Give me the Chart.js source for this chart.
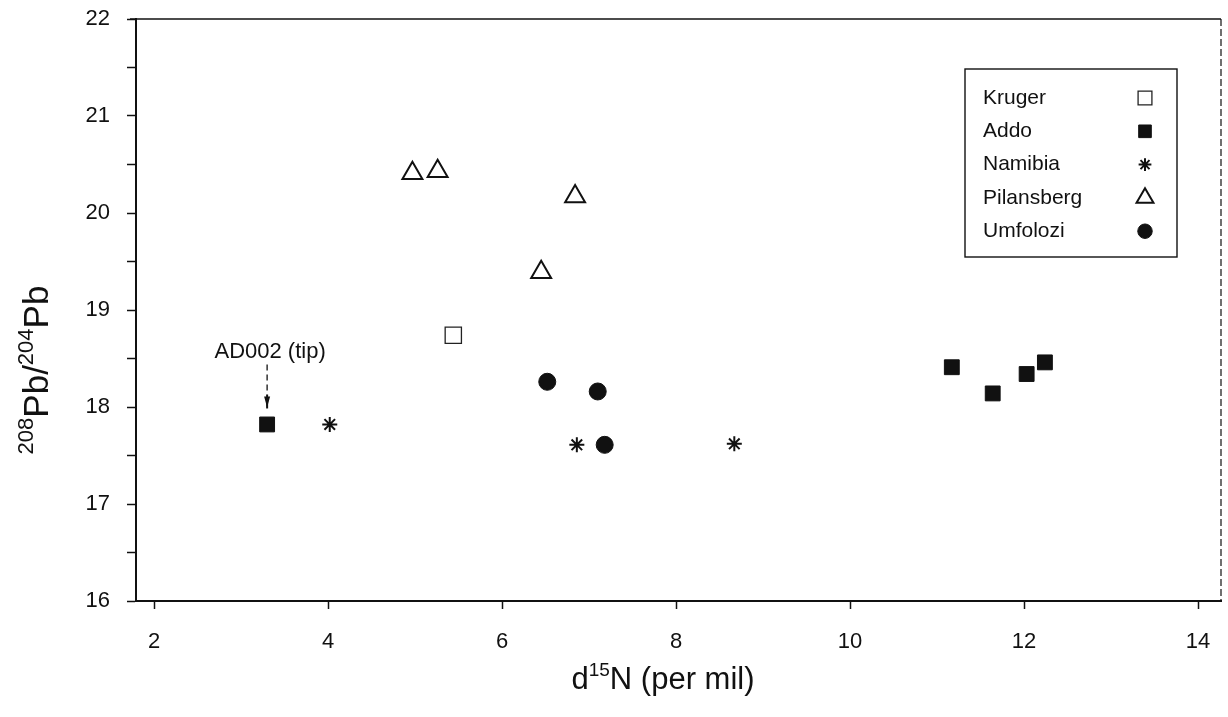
<!DOCTYPE html>
<html>
<head>
<meta charset="utf-8">
<script src="https://cdn.jsdelivr.net/npm/chart.js@4.4.1/dist/chart.umd.min.js"></script>
<style>
  html, body { margin: 0; padding: 0; background: #fff; }
</style>
</head>
<body>
<canvas id="isoChart" width="1228" height="717"></canvas>
<script>
const xTicks = [2, 4, 6, 8, 10, 12, 14];
const yTicks = [16, 17, 18, 19, 20, 21, 22];
const yMinorTicks = [16.5, 17.5, 18.5, 19.5, 20.5, 21.5];

const krugerX = [5.44];
const krugerY = [18.74];
const addoX = [3.30, 11.17, 11.64, 12.03, 12.24];
const addoY = [17.82, 18.41, 18.14, 18.34, 18.46];
const namibiaX = [4.02, 6.86, 8.67];
const namibiaY = [17.82, 17.61, 17.62];
const pilansbergX = [4.97, 5.26, 6.45, 6.84];
const pilansbergY = [20.41, 20.43, 19.39, 20.17];
const umfoloziX = [6.52, 7.10, 7.18];
const umfoloziY = [18.26, 18.16, 17.61];

// axis titles, split so the isotope numbers can be raised
const xTitle = [['d', false], ['15', true], ['N (per mil)', false]];
const yTitle = [['208', true], ['Pb/', false], ['204', true], ['Pb', false]];
const noteText = 'AD002 (tip)';

const FONT = '"Liberation Sans", Arial, sans-serif';
const INK = '#111';

function pairs(xs, ys) {
  return xs.map((x, i) => ({ x: x, y: ys[i] }));
}

// writes a run of text pieces centred on (cx, baseline), superscripts smaller and raised
function supText(ctx, parts, cx, baseline, size, supSize) {
  const widths = parts.map(([t, sup]) => {
    ctx.font = (sup ? supSize : size) + 'px ' + FONT;
    return ctx.measureText(t).width;
  });
  let x = cx - widths.reduce((a, b) => a + b, 0) / 2;
  ctx.textAlign = 'left';
  ctx.textBaseline = 'alphabetic';
  parts.forEach(([t, sup], i) => {
    ctx.font = (sup ? supSize : size) + 'px ' + FONT;
    ctx.fillText(t, x, sup ? baseline - size * 0.42 : baseline);
    x += widths[i];
  });
}

const titles = {
  id: 'titles',
  afterDraw(chart) {
    const { ctx } = chart;
    ctx.save();
    ctx.fillStyle = INK;
    supText(ctx, xTitle, 663, 689, 31, 19);
    ctx.translate(48, 370);
    ctx.rotate(-Math.PI / 2);
    supText(ctx, yTitle, 0, 0, 35, 22);
    ctx.restore();
  }
};

// top and right edges of the frame
const frame = {
  id: 'frame',
  afterDraw(chart) {
    const { ctx, chartArea: a } = chart;
    ctx.save();
    ctx.strokeStyle = INK;
    ctx.lineWidth = 1.6;
    ctx.beginPath();
    ctx.moveTo(a.left - 6, a.top);
    ctx.lineTo(a.right, a.top);
    ctx.stroke();
    ctx.lineWidth = 1.2;
    ctx.setLineDash([7, 3]);
    ctx.beginPath();
    ctx.moveTo(a.right, a.top);
    ctx.lineTo(a.right, a.bottom);
    ctx.stroke();
    ctx.restore();
  }
};

// the AD002 label with its arrow
const note = {
  id: 'note',
  afterDatasetsDraw(chart) {
    const { ctx, scales } = chart;
    const px = scales.x.getPixelForValue(addoX[0]);
    const py = scales.y.getPixelForValue(addoY[0]);
    ctx.save();
    ctx.fillStyle = INK;
    ctx.strokeStyle = INK;
    ctx.font = '22px ' + FONT;
    ctx.textAlign = 'center';
    ctx.textBaseline = 'middle';
    ctx.fillText(noteText, px + 3, py - 73);
    ctx.lineWidth = 1.3;
    ctx.setLineDash([6, 4]);
    ctx.beginPath();
    ctx.moveTo(px, py - 60);
    ctx.lineTo(px, py - 30);
    ctx.stroke();
    ctx.setLineDash([]);
    ctx.lineWidth = 2;
    ctx.beginPath();
    ctx.moveTo(px, py - 30);
    ctx.lineTo(px, py - 16);
    ctx.stroke();
    ctx.beginPath();
    ctx.moveTo(px - 3, py - 28);
    ctx.lineTo(px + 3, py - 28);
    ctx.lineTo(px, py - 17);
    ctx.closePath();
    ctx.fill();
    ctx.restore();
  }
};

// boxed legend: name on the left, marker on the right
const boxLegend = {
  id: 'boxLegend',
  afterDraw(chart) {
    const { ctx } = chart;
    const left = 965, top = 69, w = 212, h = 188;
    ctx.save();
    ctx.strokeStyle = INK;
    ctx.lineWidth = 1.4;
    ctx.strokeRect(left, top, w, h);
    ctx.font = '21px ' + FONT;
    ctx.textBaseline = 'middle';
    chart.data.datasets.forEach((ds, i) => {
      const y = top + 29 + i * 33.3;
      ctx.fillStyle = INK;
      ctx.fillText(ds.label, left + 18, y);
      ctx.fillStyle = ds.backgroundColor;
      ctx.strokeStyle = ds.borderColor;
      ctx.lineWidth = ds.borderWidth;
      Chart.helpers.drawPoint(ctx, {
        pointStyle: ds.pointStyle,
        radius: ds.pointRadius * 0.85,
        borderWidth: ds.borderWidth,
        rotation: 0
      }, left + 180, y);
    });
    ctx.restore();
  }
};

new Chart(document.getElementById('isoChart'), {
  type: 'scatter',
  data: {
    datasets: [
      { label: 'Kruger', data: pairs(krugerX, krugerY), pointStyle: 'rect', pointRadius: 11.5,
        backgroundColor: '#fff', borderColor: '#222', borderWidth: 1.3 },
      { label: 'Addo', data: pairs(addoX, addoY), pointStyle: 'rect', pointRadius: 10.5,
        backgroundColor: INK, borderColor: INK, borderWidth: 1 },
      { label: 'Namibia', data: pairs(namibiaX, namibiaY), pointStyle: 'star', pointRadius: 7.5,
        backgroundColor: INK, borderColor: INK, borderWidth: 2 },
      { label: 'Pilansberg', data: pairs(pilansbergX, pilansbergY), pointStyle: 'triangle', pointRadius: 11.5,
        backgroundColor: '#fff', borderColor: INK, borderWidth: 2 },
      { label: 'Umfolozi', data: pairs(umfoloziX, umfoloziY), pointStyle: 'circle', pointRadius: 8.5,
        backgroundColor: INK, borderColor: INK, borderWidth: 1 }
    ]
  },
  options: {
    responsive: false,
    animation: false,
    devicePixelRatio: 1,
    layout: { autoPadding: false, padding: { top: 19, right: 7, left: 0, bottom: 0 } },
    scales: {
      x: {
        type: 'linear',
        min: 1.793,
        max: 14.264,
        afterFit: s => {
          s.height = 116;
          s.paddingLeft = 0;
          s.paddingRight = 0;
        },
        afterBuildTicks: s => { s.ticks = xTicks.map(v => ({ value: v })); },
        border: { display: true, color: INK, width: 2 },
        grid: { drawOnChartArea: false, drawTicks: true, tickLength: 8, tickColor: INK, tickWidth: 1.5 },
        ticks: { color: INK, padding: 20, font: { family: FONT, size: 22 } }
      },
      y: {
        type: 'linear',
        min: 16,
        max: 22,
        afterFit: s => {
          s.width = 136;
          s.paddingTop = 0;
          s.paddingBottom = 0;
        },
        afterBuildTicks: s => {
          s.ticks = yTicks.concat(yMinorTicks).sort((a, b) => a - b).map(v => ({ value: v }));
        },
        border: { display: true, color: INK, width: 2 },
        grid: { drawOnChartArea: false, drawTicks: true, tickLength: 9, tickColor: INK, tickWidth: 1.5 },
        ticks: {
          color: INK,
          padding: 17,
          font: { family: FONT, size: 22 },
          callback: v => (yTicks.includes(v) ? String(v) : '')
        }
      }
    },
    plugins: {
      legend: { display: false },
      tooltip: { enabled: false }
    }
  },
  plugins: [frame, note, boxLegend, titles]
});
</script>
</body>
</html>
